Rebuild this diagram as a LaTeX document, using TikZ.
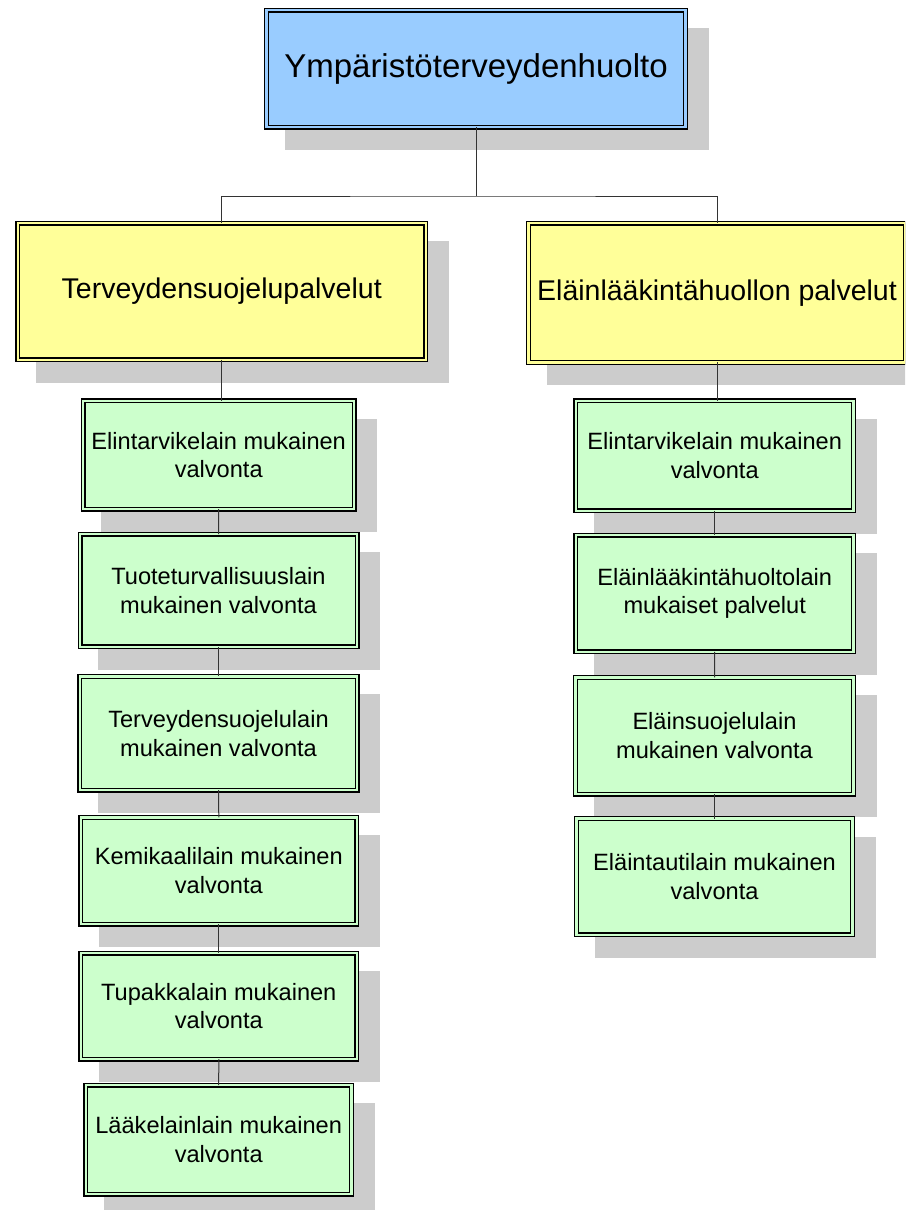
\documentclass[tikz,border=0pt]{standalone}
\usepackage{fontspec}
\setmainfont{Liberation Sans}
\usetikzlibrary{backgrounds}
\definecolor{topblue}{HTML}{99CCFF}
\definecolor{midyellow}{HTML}{FFFF99}
\definecolor{leafgreen}{HTML}{CCFFCC}
\definecolor{shadowgray}{HTML}{CCCCCC}
\definecolor{linegray}{HTML}{333333}
\tikzset{
  box/.style={rectangle, draw=black, line width=1.3pt, double distance=2.4pt,
    inner sep=0pt, outer sep=0pt, align=center},
  topbox/.style={box, double=topblue, fill=topblue, font=\fontsize{33}{38}\selectfont},
  midbox/.style={box, double=midyellow, fill=midyellow, font=\fontsize{28.5}{33}\selectfont},
  leafbox/.style={box, double=leafgreen, fill=leafgreen, font=\fontsize{23.6}{28.6}\selectfont},
  conn/.style={draw=linegray, line width=1pt},
  shadowrect/.style={fill=shadowgray}
}
\newcommand{\boxshadow}[1]{\fill[shadowrect] ([shift={(18pt,-18pt)}]#1.north west) rectangle ([shift={(23pt,-23pt)}]#1.south east);}
\begin{document}
\begin{tikzpicture}[x=1pt,y=-1pt]
\useasboundingbox (0,0) rectangle (905,1210);
\clip (0,0) rectangle (905,1210);
% top
\node[topbox, minimum width=419pt, minimum height=117pt] (top) at (476,68.5) {Ympäristöterveydenhuolto};
% second level
\node[midbox, minimum width=408pt, minimum height=136.6pt] (TY) at (221.7,291.5) {Terveydensuojelupalvelut};
\node[midbox, minimum width=377pt, minimum height=139.3pt] (EY) at (717,292.8) {Eläinlääkintähuollon palvelut};
% left column
\node[leafbox, minimum width=271pt, minimum height=108.4pt] (L1) at (218.7,455) {Elintarvikelain mukainen\\valvonta};
\node[leafbox, minimum width=277pt, minimum height=112.6pt] (L2) at (218.5,590.5) {Tuoteturvallisuuslain\\mukainen valvonta};
\node[leafbox, minimum width=277.3pt, minimum height=113.7pt] (L3) at (218.5,733.3) {Terveydensuojelulain\\mukainen valvonta};
\node[leafbox, minimum width=276pt, minimum height=106.7pt] (L4) at (218.8,870.8) {Kemikaalilain mukainen\\valvonta};
\node[leafbox, minimum width=276pt, minimum height=106pt] (L5) at (218.8,1006.2) {Tupakkalain mukainen\\valvonta};
\node[leafbox, minimum width=265.7pt, minimum height=109pt] (L6) at (218.7,1139.7) {Lääkelainlain mukainen\\valvonta};
% right column
\node[leafbox, minimum width=277.7pt, minimum height=110pt] (R1) at (714.7,455.8) {Elintarvikelain mukainen\\valvonta};
\node[leafbox, minimum width=277.7pt, minimum height=116.6pt] (R2) at (714.7,593.5) {Eläinlääkintähuoltolain\\mukaiset palvelut};
\node[leafbox, minimum width=278pt, minimum height=116.7pt] (R3) at (714.5,735.8) {Eläinsuojelulain\\mukainen valvonta};
\node[leafbox, minimum width=276pt, minimum height=116.3pt] (R4) at (714.5,876.7) {Eläintautilain mukainen\\valvonta};
% shadows
\begin{scope}[on background layer]
\clip (0,0) rectangle (905,1210);
\foreach \n in {top,TY,EY,L1,L2,L3,L4,L5,L6,R1,R2,R3,R4} {\boxshadow{\n}}
\end{scope}
% connectors
\coordinate (bus) at (476,196);
\draw[conn] (top.south) -- (bus);
\draw[conn] (TY.north) |- (bus) -| (EY.north);
\draw[conn] (TY.south) -- (TY.south |- L1.north);
\draw[conn] (EY.south) -- (EY.south |- R1.north);
\draw[conn] (L1.south) -- (L2.north);
\draw[conn] (L2.south) -- (L3.north);
\draw[conn] (L3.south) -- (L4.north);
\draw[conn] (L4.south) -- (L5.north);
\draw[conn] (L5.south) -- (L6.north);
\draw[conn] (R1.south) -- (R2.north);
\draw[conn] (R2.south) -- (R3.north);
\draw[conn] (R3.south) -- (R4.north);
\end{tikzpicture}
\end{document}
